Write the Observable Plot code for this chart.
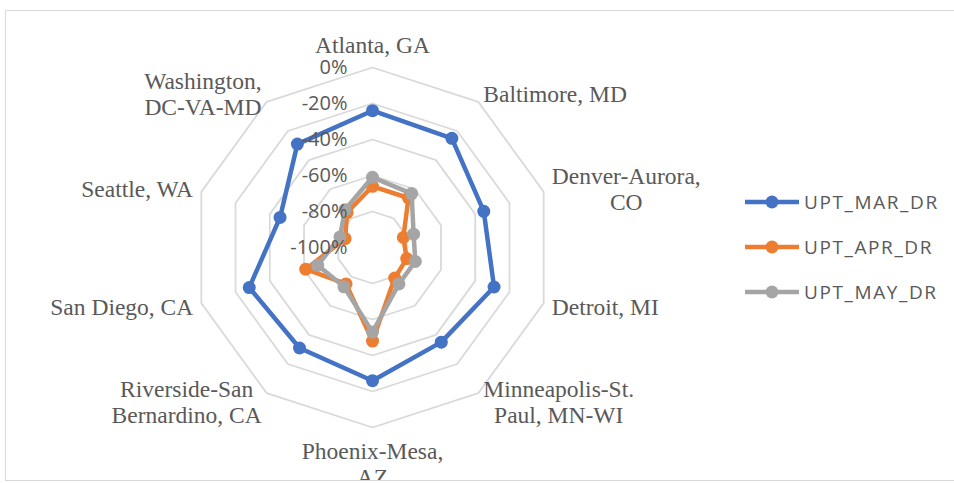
<!DOCTYPE html>
<html><head><meta charset="utf-8">
<script src="https://cdn.jsdelivr.net/npm/d3@7"></script>
<script src="https://cdn.jsdelivr.net/npm/@observablehq/plot@0.6"></script>
<style>
html,body{margin:0;padding:0;background:#fff;}
#wrap{position:relative;width:954px;height:481px;overflow:hidden;}
#frame{position:absolute;left:5px;top:10px;width:960px;height:471px;border:1px solid #d9d9d9;box-sizing:border-box;pointer-events:none;}
#chart{position:absolute;left:0;top:0;}
#legend{position:absolute;left:0;top:0;}
.lg{position:absolute;left:745px;height:20px;display:flex;align-items:center;font-family:"Open Sans",sans-serif;font-size:19px;letter-spacing:1.6px;color:#595959;white-space:nowrap;}
.lg svg{margin-right:4px;}
</style></head><body>
<div id="wrap"><div id="chart"></div><div id="legend"></div><div id="frame"></div></div>
<script>
const categories = ["Atlanta, GA","Baltimore, MD","Denver-Aurora, CO","Detroit, MI","Minneapolis-St. Paul, MN-WI","Phoenix-Mesa, AZ","Riverside-San Bernardino, CA","San Diego, CA","Seattle, WA","Washington, DC-VA-MD"];
const categoryLabels = ["Atlanta, GA","Baltimore, MD","Denver-Aurora,\nCO","Detroit, MI","Minneapolis-St.\nPaul, MN-WI","Phoenix-Mesa,\nAZ","Riverside-San\nBernardino, CA","San Diego, CA","Seattle, WA","Washington,\nDC-VA-MD"];
const seriesNames = ["UPT_MAR_DR","UPT_APR_DR","UPT_MAY_DR"];
const seriesColors = ["#4472C4","#ED7D31","#A5A5A5"];
const marValues = [-24, -25, -35, -29, -35, -26, -31, -28, -46, -29];
const aprValues = [-66, -66, -82, -80, -79, -48, -75, -61, -84, -76];
const mayValues = [-61, -63, -76, -75, -75, -53, -73, -68, -81, -74];
const tickValues = [0, -20, -40, -60, -80, -100];
const tickLabels = ["0%", "-20%", "-40%", "-60%", "-80%", "-100%"];

const W = 954, H = 483, CX = 372, CY = 247, R = 180;
const n = categories.length;
const rScale = d3.scaleLinear().domain([-100, 0]).range([0, 1]);
const ang = i => i * 2 * Math.PI / n;
const polar = (i, v) => ({x: rScale(v) * Math.sin(ang(i)), y: rScale(v) * Math.cos(ang(i))});

// rings
const rings = [];
tickValues.filter(t => t > -100).forEach(t => {
  for (let i = 0; i <= n; i++) { const p = polar(i % n, t); rings.push({tick: t, x: p.x, y: p.y}); }
});

// series
const allValues = [marValues, aprValues, mayValues];
const seriesData = [];
allValues.forEach((vals, s) => {
  for (let i = 0; i <= n; i++) { const p = polar(i % n, vals[i % n]); seriesData.push({series: seriesNames[s], cat: categories[i % n], value: vals[i % n], x: p.x, y: p.y, closing: i === n}); }
});

// category labels placed like Excel: box adjacent to outer vertex
const cvs = document.createElement("canvas").getContext("2d");
const FS = 23.5, LH = 1.11;
cvs.font = FS + "px 'Liberation Serif'";
const labelData = categoryLabels.map((lab, i) => {
  const lines = lab.split("\n");
  const w = d3.max(lines, l => cvs.measureText(l).width);
  const h = lines.length * FS * LH;
  const s = Math.sin(ang(i)), c = Math.cos(ang(i));
  let px = s * R, py = -c * R; // pixel offsets from center (y down)
  if (Math.abs(s) > 0.05) px += Math.sign(s) * (8.5 * Math.abs(s) + w / 2);
  py += -c * 10 - (Math.abs(c) > 0.99 ? Math.sign(c) * h / 2 : 0);
  return {label: lab, x: px / R, y: -py / R};
});

const chart = Plot.plot({
  width: W, height: H, margin: 0,
  x: {domain: [-CX / R, (W - CX) / R], range: [0, W], axis: null},
  y: {domain: [-(H - CY) / R, CY / R], range: [H, 0], axis: null},
  color: {domain: seriesNames, range: seriesColors},
  style: {background: "transparent", overflow: "visible"},
  marks: [
    Plot.line(rings, {x: "x", y: "y", z: "tick", stroke: "#d9d9d9", strokeWidth: 1.75}),
    ...seriesNames.flatMap(name => [
      Plot.line(seriesData.filter(d => d.series === name), {x: "x", y: "y", stroke: "series", strokeWidth: 4.5, strokeLinejoin: "round"}),
      Plot.dot(seriesData.filter(d => d.series === name && !d.closing), {x: "x", y: "y", fill: "series", r: 6.5, stroke: null})
    ]),
    Plot.text(tickValues, {x: () => 0, y: d => rScale(d), text: (d, i) => tickLabels[i], textAnchor: "end", dx: -25, fill: "#595959", fontSize: 20, fontFamily: "'Open Sans', sans-serif", letterSpacing: 0.8, lineAnchor: "middle"}),
    Plot.text(labelData, {x: "x", y: "y", text: "label", textAnchor: "middle", lineAnchor: "middle", lineHeight: LH, fill: "#595959", fontSize: FS, fontFamily: "'Liberation Serif', serif"})
  ]
});
document.getElementById("chart").appendChild(chart);

// legend
const legend = document.getElementById("legend");
seriesNames.forEach((name, k) => {
  const row = document.createElement("div");
  row.className = "lg";
  row.style.top = (192 + k * 45) + "px";
  row.innerHTML = `<svg width="55" height="20"><line x1="0" x2="54" y1="10" y2="10" stroke="${seriesColors[k]}" stroke-width="4.5"/><circle cx="27" cy="10" r="6.5" fill="${seriesColors[k]}"/></svg><span>${name}</span>`;
  legend.appendChild(row);
});
</script>
</body></html>
